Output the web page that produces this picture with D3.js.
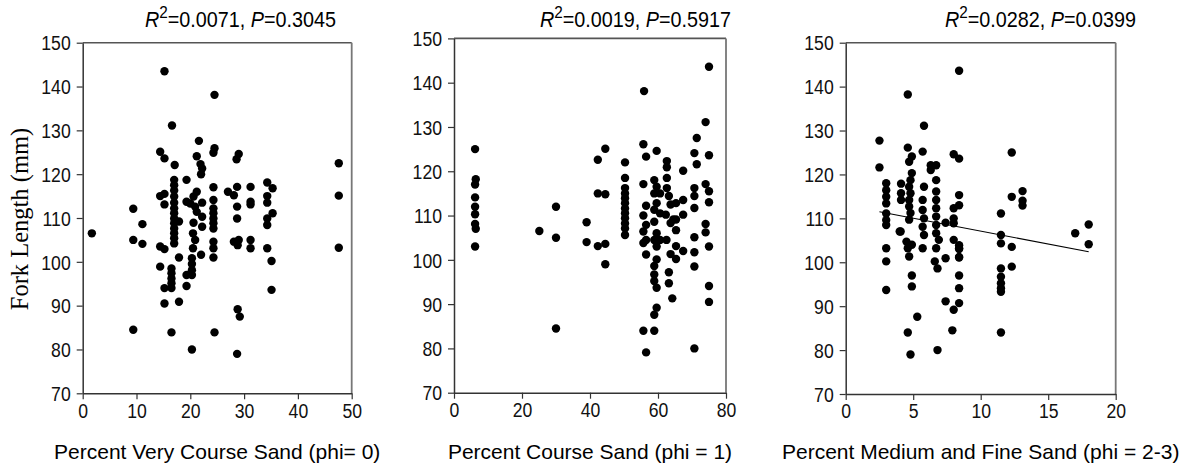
<!DOCTYPE html>
<html><head><meta charset="utf-8">
<script src="https://cdn.jsdelivr.net/npm/d3@7/dist/d3.min.js"></script>
<style>body{margin:0;background:#fff}svg{display:block}</style>
</head><body><svg id="c" width="1190" height="471"></svg>
<script>
// Panel 1: Percent Very Course Sand (phi = 0)
const p1x = [1.7,15.2,24.5,16.6,21.6,14.4,15.2,24.5,24.3,21.2,29.0,28.6,17.1,21.9,22.2,22.0,19.3,
 17.0,17.0,17.0,17.0,17.0,17.0,17.0,17.0,17.0,17.0,17.0,17.0,17.0,17.9,
 14.4,15.2,15.2,9.4,11.1,9.4,11.1,14.4,15.2,17.9,14.4,16.5,16.5,16.5,16.5,16.5,15.2,15.2,17.9,9.4,16.5,24.5,20.3,28.7,
 21.2,20.6,19.3,20.0,20.9,22.2,21.2,22.2,20.6,22.2,20.5,20.9,20.5,22.0,20.3,20.3,20.3,20.3,19.3,19.3,
 24.3,24.3,24.3,24.3,24.3,24.3,24.3,24.3,24.3,24.3,
 27.0,28.1,28.7,28.7,28.7,28.1,28.8,29.0,28.8,29.2,
 31.2,31.2,31.2,31.2,31.2,
 34.3,35.3,34.3,34.3,35.3,34.3,34.3,34.3,35.1,35.1,47.6,47.6,47.6];
const p1y = [106.5,143.5,138.1,131.1,127.6,125.1,123.6,125.9,124.9,124.1,124.6,123.4,122.1,122.3,121.3,120.0,118.7,
 118.7,117.5,116.3,114.9,113.5,112.2,111.1,109.9,108.8,107.6,106.5,105.4,104.2,109.2,
 115.0,115.5,113.1,112.1,108.6,105.0,104.1,103.5,102.9,101.0,98.9,98.5,97.4,96.2,95.1,94.0,94.0,90.5,90.9,84.5,83.9,83.9,80.0,79.0,
 116.0,114.9,113.7,113.3,112.6,113.5,111.4,110.3,108.9,108.0,106.5,105.0,103.1,101.6,100.8,99.5,98.1,97.0,97.0,94.5,
 117.0,114.1,112.2,111.1,109.9,108.8,107.6,104.6,103.1,101.0,
 116.0,115.2,117.1,112.6,109.9,104.6,103.8,105.0,89.2,87.5,
 117.1,113.7,113.1,105.0,103.1,
 118.1,116.8,115.0,113.5,111.1,109.9,108.4,103.1,100.2,93.6,122.5,115.1,103.2];

// Panel 2: Percent Course Sand (phi = 1)
const p2x = [75.0,55.9,74.0,71.4,44.5,42.3,55.7,56.5,59.6,70.7,75.0,71.4,67.4,62.6,62.6,62.6,
 50.3,50.3,50.3,50.3,50.3,50.3,50.3,50.3,50.3,50.3,50.3,50.3,
 42.3,44.5,39.0,39.0,42.3,44.5,44.5,
 55.7,56.5,55.7,56.5,55.7,56.5,55.7,56.5,55.7,58.9,56.5,
 58.9,59.6,58.9,60.6,59.6,58.9,60.6,58.9,59.6,58.9,60.6,59.6,62.5,
 62.6,63.2,63.7,62.3,63.7,64.5,
 65.3,67.4,65.3,67.4,65.3,65.3,67.4,65.3,
 63.7,63.2,63.2,64.2,59.6,58.9,58.9,58.9,59.6,59.6,58.9,
 70.7,70.7,70.7,70.7,70.7,70.7,70.7,
 74.0,75.0,75.0,74.0,74.0,75.0,75.0,75.0,
 6.2,6.4,6.2,6.2,6.2,6.2,6.2,6.4,6.2,25.1,30.0,30.0,30.0];
const p2y = [143.6,138.1,131.1,127.5,125.1,122.6,126.1,123.3,124.6,124.1,123.6,121.6,120.1,122.3,120.9,118.5,
 122.0,118.5,116.2,115.0,113.9,112.8,111.6,110.5,109.4,108.2,107.1,105.6,
 115.0,114.8,108.5,104.0,103.1,103.6,99.0,
 117.1,112.2,110.0,107.9,106.4,104.5,103.8,101.2,84.0,84.0,79.1,
 118.0,116.5,115.0,115.0,112.8,111.3,110.5,108.6,106.0,104.5,104.5,103.0,104.5,
 116.2,114.4,112.5,110.2,108.3,109.1,
 112.8,113.5,109.1,110.2,106.7,103.1,102.0,100.2,
 101.3,97.2,94.7,91.3,100.1,98.6,96.7,95.2,93.7,89.2,87.6,
 116.2,114.4,111.7,105.1,101.7,98.5,80.0,
 117.1,115.5,113.0,108.1,106.2,103.0,94.1,90.5,
 125.0,118.2,117.0,114.1,112.0,110.3,108.1,107.0,103.0,106.5,112.0,105.0,84.5];

// Panel 3: Percent Medium and Fine Sand (phi = 2-3)
const p3x = [8.4,4.6,5.8,2.5,2.5,4.6,4.9,4.7,5.7,8.0,8.4,6.3,6.7,6.3,6.7,
 4.9,4.8,4.7,4.8,4.7,4.7,4.8,4.7,4.1,4.1,4.1,
 3.0,3.0,3.0,3.0,3.0,3.0,3.0,3.0,3.0,3.0,
 5.8,5.7,5.7,5.8,5.7,5.8,5.7,
 6.7,6.7,6.7,6.7,6.7,6.7,6.9,6.7,6.6,6.8,7.4,7.4,
 8.0,8.0,8.4,8.4,8.0,8.4,8.4,8.4,8.4,8.4,8.0,7.4,7.9,6.8,5.3,4.6,4.8,4.9,4.9,
 4.0,4.5,4.6,4.7,4.9,4.07,
 12.3,12.3,13.1,13.1,13.1,12.3,12.3,11.5,11.5,11.5,11.5,11.5,11.5,11.5,11.5,11.5,
 18.0,17.0,18.0,8.0,8.4,8.4,8.4];
const p3y = [143.6,138.2,131.1,127.7,121.6,126.1,124.1,122.9,125.2,124.6,123.6,122.1,122.1,121.0,118.7,
 120.3,118.7,117.2,115.7,114.2,112.7,111.2,109.7,117.9,115.7,114.2,
 118.0,116.4,114.9,113.4,111.1,109.6,108.5,103.2,100.2,93.7,
 117.2,114.2,111.9,110.0,108.1,106.2,103.2,
 116.1,114.2,112.3,110.4,108.5,106.6,105.1,103.2,100.2,98.6,109.0,100.9,
 110.0,112.3,113.0,115.3,105.1,103.2,101.2,97.0,94.1,90.7,89.2,91.1,84.5,80.0,87.6,84.0,79.0,97.0,94.5,
 107.0,104.7,103.2,101.3,104.0,107.0,
 125.0,114.9,116.2,114.0,112.9,103.5,99.0,111.1,106.2,104.3,98.6,96.7,95.2,94.1,93.3,84.0,
 108.6,106.6,104.1,108.9,103.9,103.0,101.1];
const fitX = [2.5, 18.0];
const fitY = [111.5, 102.4];

const xTicks1 = [0,10,20,30,40,50];
const xTicks2 = [0,20,40,60,80];
const xTicks3 = [0,5,10,15,20];
const yTicks = [70,80,90,100,110,120,130,140,150];
const xTitles = ["Percent Very Course Sand (phi= 0)","Percent Course Sand (phi = 1)","Percent Medium and Fine Sand (phi = 2-3)"];
const r2 = ["0.0071","0.0019","0.0282"];
const pv = ["0.3045","0.5917","0.0399"];

const SANS = "'Liberation Sans', Arial, sans-serif";
const SX = 0.86; // horizontal condensing to mimic a narrow face
const svg = d3.select("#c");
const panels = [
 {x:p1x,y:p1y,xd:[0,50],ticks:xTicks1,L:82.7,R:351.7,T:42.7,B:393.3,tx:145,fit:false},
 {x:p2x,y:p2y,xd:[0,80],ticks:xTicks2,L:454,R:726,T:38.4,B:392.7,tx:540,fit:false},
 {x:p3x,y:p3y,xd:[0,20],ticks:xTicks3,L:845.7,R:1115.7,T:42.7,B:394,tx:945,fit:true}
];
panels.forEach((p,i)=>{
  const xs = d3.scaleLinear().domain(p.xd).range([p.L,p.R]);
  const ys = d3.scaleLinear().domain([70,150]).range([p.B,p.T]);
  const g = svg.append("g");
  g.append("line").attr("x1",p.L).attr("x2",p.R).attr("y1",p.T).attr("y2",p.T).attr("stroke","#555").attr("stroke-width",1.6);
  g.append("line").attr("x1",p.R).attr("x2",p.R).attr("y1",p.T).attr("y2",p.B).attr("stroke","#777").attr("stroke-width",1.8);
  const ax = g.append("g").attr("transform",`translate(0,${p.B})`).call(d3.axisBottom(xs).tickValues(p.ticks).tickSize(6).tickSizeOuter(0).tickFormat(d3.format("d")));
  const ay = g.append("g").attr("transform",`translate(${p.L},0)`).call(d3.axisLeft(ys).tickValues(yTicks).tickSize(6).tickSizeOuter(0).tickFormat(d3.format("d")));
  [ax,ay].forEach(a=>{
    a.select(".domain").attr("stroke","#333").attr("stroke-width",1.5);
    a.selectAll(".tick line").attr("stroke","#333").attr("stroke-width",1.2);
    a.selectAll("text").style("font-family",SANS).style("font-size","20.5px").attr("fill","#111")
      .attr("transform",`scale(${SX},1)`);
  });
  ax.selectAll("text").attr("y",8).attr("dy","0.8em");
  ay.selectAll("text").attr("x",-12/SX).attr("dy","0.35em");
  g.selectAll("circle").data(p.x.map((v,k)=>[v,p.y[k]])).join("circle")
    .attr("cx",d=>xs(d[0])).attr("cy",d=>ys(d[1])).attr("r",4.2).attr("fill","#000");
  if(p.fit){
    g.append("line").attr("x1",xs(fitX[0])).attr("y1",ys(fitY[0])).attr("x2",xs(fitX[1])).attr("y2",ys(fitY[1])).attr("stroke","#000").attr("stroke-width",1.1);
  }
  const t = g.append("text").attr("transform",`translate(${p.tx},27) scale(0.9,1)`).style("font-family",SANS).style("font-size","22px").attr("fill","#000");
  t.append("tspan").style("font-style","italic").text("R");
  t.append("tspan").style("font-size","17px").attr("dy",-9).text("2");
  t.append("tspan").attr("dy",9).text("=" + r2[i] + ", ");
  t.append("tspan").style("font-style","italic").text("P");
  t.append("tspan").text("=" + pv[i]);
  g.append("text").attr("x",(p.L+p.R)/2).attr("y",459).attr("text-anchor","middle")
    .style("font-family",SANS).style("font-size","21px").attr("fill","#000").text(xTitles[i]);
});
svg.append("text").attr("transform","translate(28,219) rotate(-90)").attr("text-anchor","middle")
  .style("font-family","'Liberation Serif', 'Times New Roman', serif").style("font-size","24.5px").attr("fill","#000").text("Fork Length (mm)");
</script></body></html>
